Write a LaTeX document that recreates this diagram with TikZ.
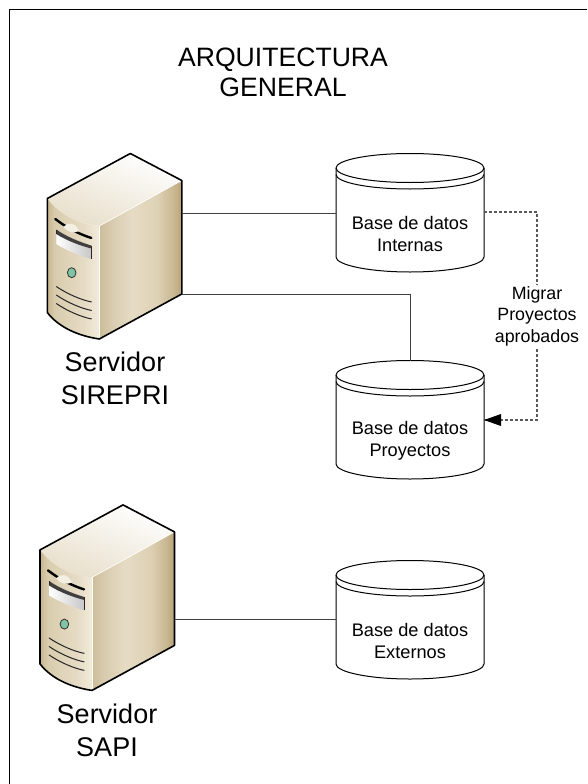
\documentclass[tikz,border=0pt]{standalone}
\usepackage{fontspec}
\setmainfont{Liberation Sans}
\pgfdeclarehorizontalshading{srvface}{100bp}{rgb(0bp)=(0.80,0.74,0.60); rgb(25bp)=(0.80,0.74,0.60); rgb(33bp)=(0.85,0.80,0.69); rgb(45bp)=(0.90,0.86,0.77); rgb(60bp)=(0.87,0.82,0.71); rgb(70bp)=(0.79,0.72,0.57); rgb(75bp)=(0.72,0.64,0.48); rgb(100bp)=(0.72,0.64,0.48)}
\pgfdeclarehorizontalshading{srvfront}{100bp}{rgb(0bp)=(0.78,0.71,0.56); rgb(25bp)=(0.78,0.71,0.56); rgb(32bp)=(0.85,0.80,0.68); rgb(60bp)=(0.90,0.86,0.77); rgb(75bp)=(0.95,0.92,0.86); rgb(100bp)=(0.95,0.92,0.86)}
\tikzset{
  link/.style={draw=black!75,line width=0.9pt},
  dashlink/.style={draw=black!65,line width=1.2pt,dash pattern=on 3pt off 2pt},
  dbbody/.style={draw=black,line width=1pt,fill=white},
  dblabel/.style={align=center,font=\fontsize{18.2}{21.5}\selectfont},
  srvlabel/.style={align=center,font=\fontsize{27}{33}\selectfont},
  srvedge/.style={draw=black,line width=1.6pt,line join=round},
  database/.pic={
    \path[dbbody] (-74,-51) .. controls (-74,-59) and (-41,-65.5) .. (0,-65.5)
      .. controls (41,-65.5) and (74,-59) .. (74,-51) -- (74,38)
      .. controls (74,46) and (41,53) .. (0,53)
      .. controls (-41,53) and (-74,46) .. (-74,38) -- cycle;
    \draw[line width=1pt] (-74,-51) .. controls (-74,-43) and (-41,-36.5) .. (0,-36.5)
      .. controls (41,-36.5) and (74,-43) .. (74,-51);
    \draw[line width=1pt] (-74,-44.5) .. controls (-74,-36.5) and (-41,-30) .. (0,-30)
      .. controls (41,-30) and (74,-36.5) .. (74,-44.5);
    \coordinate (-w) at (-74,-7); \coordinate (-e) at (74,-7);
    \coordinate (-top) at (0,-65.5);
  },
  server/.pic={
    \shade[shading=srvface] (0,0) -- (82.5,-45.5) -- (82.5,68) -- (0,113) -- cycle;
    \shade[shading=srvfront] (-52,-27.5) .. controls (-38,-10) and (-20,-2) .. (0,0) -- (0,113)
      .. controls (-20,110) and (-40,102) .. (-52,86.5) -- cycle;
    \shade[top color=white,bottom color=topB,shading angle=-20] (-52,-27.5) -- (31,-72.5) -- (82.5,-45.5) -- (0,0)
      .. controls (-20,-2) and (-38,-10) .. (-52,-27.5) -- cycle;
    \draw[white,line width=0.8pt] (0,0) -- (0,113);
    \draw[white,line width=0.6pt] (0,0) -- (82.5,-45.5);
    \draw[srvedge] (-52,-27.5) -- (31,-72.5) -- (82.5,-45.5) -- (82.5,68) -- (0,113)
      .. controls (-20,110) and (-40,102) .. (-52,86.5) -- cycle;
    \draw[black,line width=2.4pt,line cap=round] (-44,-7) .. controls (-36,-1) and (-26,6) .. (-8,12);
    \fill[srvW] (-36,1) .. controls (-32,-4) and (-24,-4) .. (-20,5) .. controls (-26,8) and (-32,6) .. (-36,1) -- cycle;
    \shade[left color=white,right color=black!22] (-43,8) -- (-43,18) .. controls (-32,25) and (-18,30) .. (-8,33) -- (-8,22.5)
      .. controls (-18,20) and (-32,15) .. (-43,8) -- cycle;
    \fill[black!75] (-43,3.5) -- (-43,8) .. controls (-32,15) and (-18,20) .. (-8,22.5) -- (-8,19.5)
      .. controls (-20,16) and (-34,10) .. (-43,3.5) -- cycle;
    \draw[black!85,line width=0.7pt] (-43,3.5) -- (-43,8) (-8,19.5) -- (-8,33);
    \filldraw[fill=ledG,draw=black!80,line width=0.8pt] (-27.6,46.7) ellipse (4.3 and 5);
    \foreach \d in {0,8.5,17}{
      \draw[black!85,line width=1pt] (-43,{60.5+\d}) .. controls (-32,{68+\d}) and (-18,{74+\d}) .. (-7.6,{76+\d});
    }
    \coordinate (-a) at (82.5,0); \coordinate (-b) at (82.5,68);
    \coordinate (-c) at (82.5,-13);
  },
}
\definecolor{topB}{HTML}{E8DFCB}
\definecolor{srvW}{HTML}{F4EFE3}
\definecolor{ledG}{HTML}{7FC4A4}
\begin{document}
\begin{tikzpicture}[x=1pt,y=-1pt]
\useasboundingbox (0,0) rectangle (587,784);
\draw[black,line width=1.2pt] (9.5,784) -- (9.5,9.5) -- (587,9.5);
\node (title) at (283,72) [align=center,font=\fontsize{26.6}{30}\selectfont] {ARQUITECTURA\\GENERAL};
\pic (s1) at (99.3,226) {server};
\pic (s2) at (92,577.4) {server};
\pic (d1) at (410,219) {database};
\pic (d2) at (410,426) {database};
\pic (d3) at (410,626) {database};
\node[srvlabel] (ls1) at (115,378) {Servidor\\SIREPRI};
\node[srvlabel] (ls2) at (107,730) {Servidor\\SAPI};
\node[dblabel] (t1) at (410,234) {Base de datos\\Internas};
\node[dblabel] (t2) at (410,441) {Base de datos\\Proyectos};
\node[dblabel] (t3) at (410,641) {Base de datos\\Externos};
\draw[link] (s1-c) -- (d1-w |- s1-c);
\draw[link] (s1-b) -| (d2-top);
\draw[link] (s2-a |- d3-w) -- (d3-w);
\coordinate (j1) at (537,212);
\coordinate (j2) at (537,420);
\draw[dashlink] (d1-e |- j1) -- (j1) -- (j2) -- (d2-e |- j2);
\fill[black] (d2-e |- j2) -- ++(17,-6) -- ++(0,12) -- cycle;
\node[fill=white,inner sep=1pt,align=center,font=\fontsize{17.8}{21.5}\selectfont] (mig) at (537,316) {Migrar\\Proyectos\\aprobados};
\end{tikzpicture}
\end{document}
